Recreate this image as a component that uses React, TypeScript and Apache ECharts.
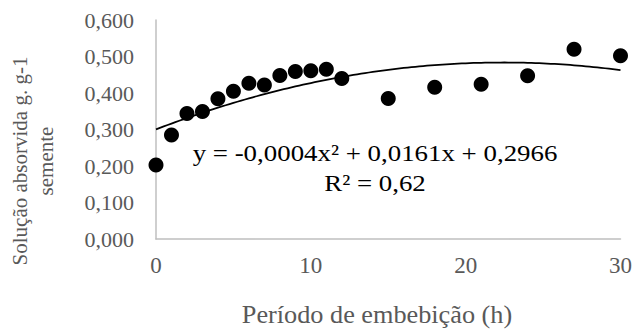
import React, { useEffect, useRef } from "react";
import * as echarts from "echarts";

// Imbibition period (h) and absorbed solution (g g-1 seed)
const hours = [0, 1, 2, 3, 4, 5, 6, 7, 8, 9, 10, 11, 12, 15, 18, 21, 24, 27, 30];
const absorbed = [
  0.203, 0.285, 0.344, 0.349, 0.384, 0.405, 0.427, 0.422, 0.448, 0.459, 0.461,
  0.465, 0.44, 0.385, 0.416, 0.424, 0.447, 0.52, 0.502,
];
const equationText = "y = -0,0004x² + 0,0161x + 0,2966";
const r2Text = "R² = 0,62";
const xTitle = "Período de embebição (h)";
const yTitle = "Solução absorvida g. g-1\nsemente";

// Least-squares quadratic fit of the measured points
function quadFit(xs: number[], ys: number[]) {
  const n = xs.length;
  let s1 = 0, s2 = 0, s3 = 0, s4 = 0, t0 = 0, t1 = 0, t2 = 0;
  for (let i = 0; i < n; i++) {
    const x = xs[i], y = ys[i];
    s1 += x; s2 += x * x; s3 += x * x * x; s4 += x * x * x * x;
    t0 += y; t1 += x * y; t2 += x * x * y;
  }
  const M = [
    [n, s1, s2, t0],
    [s1, s2, s3, t1],
    [s2, s3, s4, t2],
  ];
  for (let c = 0; c < 3; c++) {
    for (let r = c + 1; r < 3; r++) {
      const f = M[r][c] / M[c][c];
      for (let k = c; k < 4; k++) M[r][k] -= f * M[c][k];
    }
  }
  const sol = [0, 0, 0];
  for (let r = 2; r >= 0; r--) {
    let s = M[r][3];
    for (let k = r + 1; k < 3; k++) s -= M[r][k] * sol[k];
    sol[r] = s / M[r][r];
  }
  return { c: sol[0], b: sol[1], a: sol[2] };
}

export default function App() {
  const ref = useRef<HTMLDivElement>(null);

  useEffect(() => {
    if (!ref.current) return;
    const chart = echarts.init(ref.current, null, { renderer: "svg" });
    const fit = quadFit(hours, absorbed);
    const xMin = hours[0];
    const xMax = hours[hours.length - 1];
    const trend: number[][] = [];
    for (let i = 0; i <= 120; i++) {
      const x = xMin + ((xMax - xMin) * i) / 120;
      trend.push([x, fit.a * x * x + fit.b * x + fit.c]);
    }
    const font = "Liberation Serif";
    const gray = "#595959";

    chart.setOption({
      animation: false,
      backgroundColor: "#ffffff",
      textStyle: { fontFamily: font },
      grid: { left: 156, right: 14, top: 20, bottom: 95, containLabel: false },
      xAxis: {
        type: "value",
        min: 0,
        max: 30,
        interval: 10,
        axisLine: { show: true, lineStyle: { color: "#bfbfbf", width: 1.5 } },
        axisTick: { show: false },
        splitLine: { show: false },
        axisLabel: { color: gray, fontFamily: font, fontSize: 23, margin: 15 },
      },
      yAxis: {
        type: "value",
        min: 0,
        max: 0.6,
        interval: 0.1,
        axisLine: { show: true, lineStyle: { color: "#bfbfbf", width: 1.5 } },
        axisTick: { show: false },
        splitLine: { show: false },
        axisLabel: {
          color: gray,
          fontFamily: font,
          fontSize: 22,
          margin: 22,
          formatter: (v: number) => v.toFixed(3).replace(".", ","),
        },
      },
      series: [
        {
          type: "line",
          data: trend,
          showSymbol: false,
          symbol: "none",
          lineStyle: { color: "#000000", width: 1.75 },
          z: 2,
        },
        {
          type: "scatter",
          data: hours.map((h, i) => [h, absorbed[i]]),
          symbol: "circle",
          symbolSize: 15,
          itemStyle: { color: "#000000", opacity: 1 },
          z: 3,
        },
      ],
      graphic: [
        {
          type: "text",
          x: 375,
          y: 153,
          scaleX: 1.12,
          style: {
            text: equationText,
            fontFamily: font,
            fontSize: 24,
            fill: "#000000",
            align: "center",
            verticalAlign: "middle",
          },
        },
        {
          type: "text",
          x: 375,
          y: 183,
          scaleX: 1.12,
          style: {
            text: r2Text,
            fontFamily: font,
            fontSize: 24,
            fill: "#000000",
            align: "center",
            verticalAlign: "middle",
          },
        },
        {
          type: "text",
          x: 377,
          y: 315,
          scaleX: 1.05,
          style: {
            text: xTitle,
            fontFamily: font,
            fontSize: 25,
            fill: gray,
            align: "center",
            verticalAlign: "middle",
          },
        },
        {
          type: "text",
          x: 33,
          y: 161,
          rotation: Math.PI / 2,
          style: {
            text: yTitle,
            fontFamily: font,
            fontSize: 21,
            lineHeight: 26,
            fill: gray,
            align: "center",
            verticalAlign: "middle",
          },
        },
      ],
    });
    return () => chart.dispose();
  }, []);

  return <div ref={ref} style={{ width: 635, height: 334, position: "absolute", left: 0, top: 0 }} />;
}
